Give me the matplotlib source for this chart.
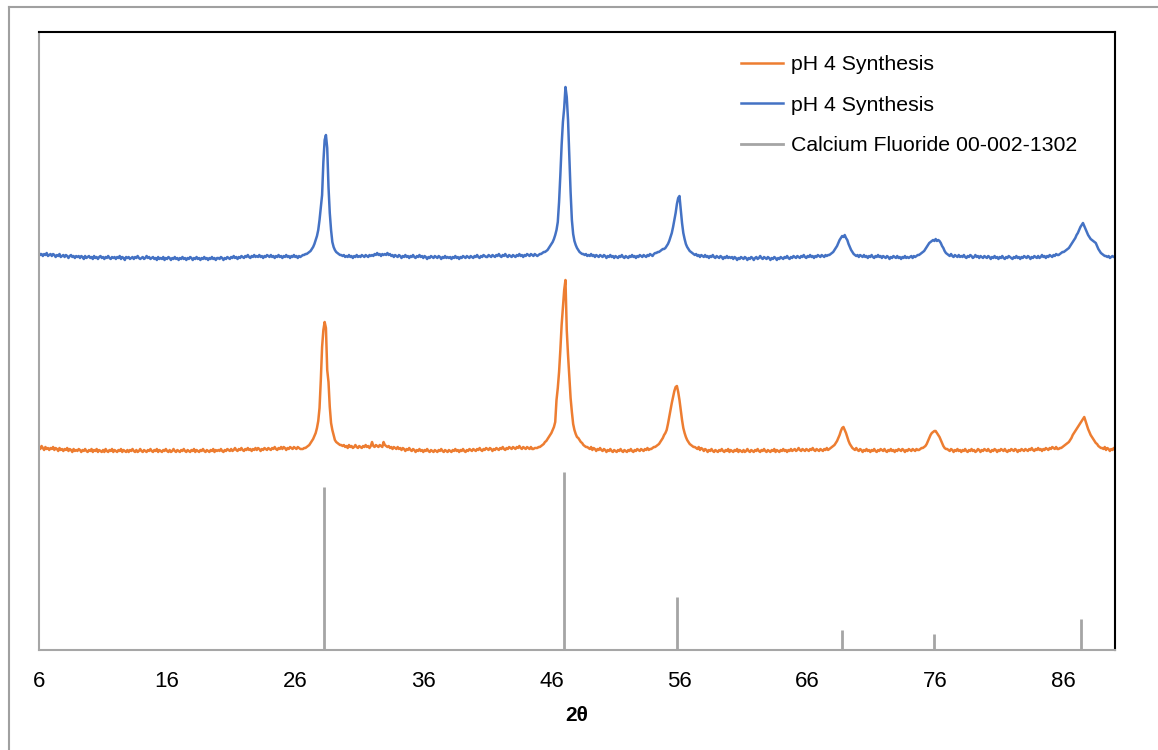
import numpy as np
import matplotlib
matplotlib.use("Agg")
import matplotlib.pyplot as plt
from matplotlib.lines import Line2D

plt.rcParams['font.family'] = ['Liberation Sans', 'DejaVu Sans']

# Diffraction angle grid: 6.0 ... 90.0 degrees in 0.1 degree steps
TWO_THETA_START = 6.0
TWO_THETA_STEP = 0.1

# Upper trace (blue), intensity in arbitrary units, one row per degree
ph4_upper = [
    397, 395, 396, 394, 396, 395, 397, 394, 395, 396,  # 6
    394, 396, 395, 393, 395, 394, 396, 393, 394, 395,  # 7
    393, 395, 394, 392, 394, 395, 393, 394, 392, 394,  # 8
    393, 394, 392, 394, 393, 391, 394, 392, 393, 394,  # 9
    392, 393, 391, 394, 392, 393, 391, 393, 394, 392,  # 10
    393, 391, 393, 392, 394, 392, 391, 393, 392, 393,  # 11
    391, 393, 392, 394, 391, 393, 392, 390, 393, 392,  # 12
    393, 391, 392, 393, 391, 393, 392, 394, 392, 391,  # 13
    392, 393, 391, 392, 394, 392, 393, 391, 392, 393,  # 14
    391, 392, 390, 393, 391, 392, 391, 393, 390, 392,  # 15
    391, 393, 392, 390, 392, 391, 393, 391, 392, 390,  # 16
    392, 391, 393, 391, 392, 390, 392, 391, 393, 392,  # 17
    390, 392, 391, 393, 391, 392, 390, 392, 391, 393,  # 18
    391, 392, 390, 392, 391, 393, 391, 392, 390, 392,  # 19
    392, 391, 393, 392, 390, 392, 391, 393, 392, 391,  # 20
    393, 392, 394, 392, 393, 391, 393, 392, 394, 393,  # 21
    392, 394, 393, 395, 393, 392, 394, 393, 395, 393,  # 22
    394, 393, 395, 393, 394, 392, 394, 393, 395, 394,  # 23
    393, 395, 393, 394, 392, 394, 393, 395, 393, 394,  # 24
    392, 394, 393, 395, 393, 394, 392, 394, 393, 395,  # 25
    393, 394, 392, 394, 393, 394, 395, 395, 396, 396,  # 26
    397, 398, 399, 401, 403, 406, 410, 414, 420, 430,  # 27
    442, 455, 488, 510, 515, 502, 463, 437, 420, 408,  # 28
    403, 400, 398, 397, 396, 395, 395, 394, 395, 393,  # 29
    394, 393, 395, 393, 394, 392, 394, 393, 395, 393,  # 30
    394, 393, 395, 394, 393, 395, 394, 393, 395, 394,  # 31
    395, 394, 396, 395, 397, 395, 396, 394, 396, 395,  # 32
    396, 395, 397, 395, 396, 394, 395, 393, 395, 394,  # 33
    393, 395, 394, 392, 394, 393, 395, 393, 394, 392,  # 34
    394, 393, 395, 393, 392, 394, 393, 395, 393, 394,  # 35
    392, 394, 393, 391, 393, 392, 394, 393, 392, 394,  # 36
    393, 392, 394, 393, 391, 393, 392, 394, 392, 393,  # 37
    392, 393, 391, 393, 392, 394, 392, 393, 391, 393,  # 38
    392, 394, 393, 392, 394, 393, 392, 394, 393, 392,  # 39
    394, 393, 395, 393, 392, 394, 393, 395, 394, 393,  # 40
    393, 395, 394, 393, 395, 394, 393, 395, 394, 396,  # 41
    394, 393, 395, 394, 396, 394, 393, 395, 394, 393,  # 42
    395, 394, 393, 395, 394, 396, 394, 395, 393, 395,  # 43
    394, 396, 395, 394, 396, 395, 394, 396, 395, 394,  # 44
    395, 396, 396, 397, 398, 398, 399, 400, 402, 404,  # 45
    406, 408, 411, 415, 420, 428, 448, 475, 505, 528,  # 46
    542, 563, 553, 530, 495, 458, 430, 416, 409, 405,  # 47
    402, 400, 398, 397, 396, 396, 395, 396, 394, 395,  # 48
    394, 396, 394, 395, 393, 395, 394, 393, 395, 394,  # 49
    393, 395, 394, 392, 394, 393, 395, 393, 394, 392,  # 50
    394, 393, 392, 394, 393, 395, 393, 392, 394, 393,  # 51
    392, 394, 393, 395, 393, 394, 392, 394, 393, 395,  # 52
    394, 393, 395, 394, 393, 395, 394, 396, 395, 394,  # 53
    396, 397, 397, 398, 398, 399, 400, 401, 401, 402,  # 54
    404, 406, 409, 413, 417, 423, 430, 437, 446, 452,  # 55
    454, 441, 427, 417, 411, 406, 403, 401, 399, 398,  # 56
    397, 396, 395, 396, 394, 395, 393, 395, 394, 393,  # 57
    395, 393, 394, 392, 394, 393, 395, 393, 392, 394,  # 58
    393, 392, 394, 393, 391, 393, 392, 394, 392, 393,  # 59
    392, 393, 391, 393, 392, 390, 392, 391, 393, 392,  # 60
    391, 393, 392, 390, 392, 391, 393, 392, 390, 392,  # 61
    393, 391, 392, 394, 392, 391, 393, 392, 391, 393,  # 62
    392, 390, 392, 391, 393, 392, 390, 392, 391, 393,  # 63
    392, 391, 393, 392, 394, 392, 391, 393, 392, 394,  # 64
    393, 392, 394, 393, 392, 394, 393, 395, 393, 392,  # 65
    394, 393, 395, 393, 394, 392, 394, 393, 395, 394,  # 66
    393, 395, 394, 393, 395, 394, 395, 395, 396, 397,  # 67
    398, 400, 402, 404, 407, 410, 412, 414, 413, 415,  # 68
    412, 410, 406, 403, 400, 398, 396, 395, 394, 395,  # 69
    393, 395, 394, 393, 395, 393, 394, 392, 394, 393,  # 70
    395, 393, 392, 394, 393, 395, 393, 394, 392, 394,  # 71
    393, 392, 394, 393, 391, 393, 392, 394, 393, 392,  # 72
    394, 392, 393, 391, 393, 392, 394, 392, 393, 392,  # 73
    393, 394, 392, 394, 393, 394, 395, 395, 396, 397,  # 74
    398, 399, 401, 403, 405, 407, 408, 409, 410, 409,  # 75
    411, 409, 410, 409, 407, 404, 402, 399, 397, 396,  # 76
    395, 394, 396, 394, 393, 395, 394, 393, 395, 393,  # 77
    394, 393, 395, 393, 392, 394, 393, 395, 394, 392,  # 78
    393, 395, 393, 394, 392, 394, 393, 392, 394, 393,  # 79
    392, 394, 393, 391, 393, 392, 394, 392, 393, 391,  # 80
    393, 392, 394, 392, 391, 393, 392, 394, 393, 392,  # 81
    391, 393, 392, 394, 392, 393, 391, 393, 392, 394,  # 82
    393, 392, 394, 393, 391, 393, 392, 394, 393, 392,  # 83
    394, 392, 393, 395, 393, 394, 392, 394, 393, 395,  # 84
    394, 393, 395, 394, 396, 395, 395, 396, 397, 398,  # 85
    398, 399, 400, 401, 402, 404, 406, 408, 410, 412,  # 86
    415, 417, 420, 423, 425, 427, 424, 421, 418, 415,  # 87
    413, 411, 410, 409, 408, 407, 404, 401, 399, 397,  # 88
    396, 395, 394, 394, 393, 394, 392, 393, 394, 393,  # 89
    393,                                               # 90
]

# Lower trace (orange), intensity in arbitrary units, one row per degree
ph4_lower = [
    203, 201, 204, 202, 200, 203, 201, 202, 200, 202,  # 6
    201, 203, 200, 202, 201, 199, 202, 200, 201, 199,  # 7
    201, 200, 202, 199, 201, 200, 198, 201, 199, 200,  # 8
    199, 201, 200, 198, 200, 199, 201, 199, 198, 200,  # 9
    199, 201, 198, 200, 199, 201, 198, 200, 199, 198,  # 10
    200, 198, 201, 199, 198, 200, 199, 201, 198, 200,  # 11
    199, 198, 200, 199, 201, 198, 200, 199, 198, 200,  # 12
    198, 200, 199, 201, 199, 198, 200, 198, 199, 201,  # 13
    199, 198, 200, 199, 198, 200, 199, 201, 199, 198,  # 14
    200, 199, 201, 198, 200, 199, 198, 200, 199, 201,  # 15
    199, 198, 200, 198, 199, 201, 199, 198, 200, 199,  # 16
    198, 200, 199, 201, 199, 198, 200, 199, 198, 200,  # 17
    199, 201, 198, 200, 199, 198, 200, 199, 201, 199,  # 18
    198, 200, 199, 198, 200, 199, 201, 198, 200, 199,  # 19
    200, 199, 201, 199, 198, 200, 199, 201, 200, 199,  # 20
    201, 199, 200, 202, 200, 199, 201, 200, 202, 200,  # 21
    199, 201, 200, 202, 200, 201, 199, 201, 200, 202,  # 22
    200, 202, 201, 199, 201, 200, 202, 201, 200, 202,  # 23
    201, 200, 202, 201, 203, 201, 200, 202, 201, 203,  # 24
    201, 203, 202, 200, 202, 201, 203, 202, 201, 203,  # 25
    202, 201, 203, 202, 201, 201, 201, 202, 202, 203,  # 26
    204, 205, 207, 209, 211, 214, 217, 222, 229, 242,  # 27
    270, 303, 320, 328, 322, 280, 268, 243, 227, 220,  # 28
    215, 210, 208, 207, 206, 205, 205, 204, 205, 203,  # 29
    204, 202, 205, 203, 204, 202, 203, 205, 203, 202,  # 30
    204, 203, 202, 204, 203, 205, 203, 204, 202, 204,  # 31
    208, 204, 203, 205, 204, 203, 205, 204, 203, 208,  # 32
    205, 204, 203, 204, 202, 203, 201, 203, 202, 201,  # 33
    203, 201, 202, 200, 202, 201, 199, 201, 200, 202,  # 34
    200, 199, 201, 200, 198, 200, 199, 201, 199, 200,  # 35
    198, 200, 199, 201, 199, 198, 200, 199, 198, 200,  # 36
    199, 198, 200, 199, 201, 199, 198, 200, 199, 198,  # 37
    200, 199, 198, 200, 199, 201, 199, 200, 198, 200,  # 38
    199, 201, 199, 198, 200, 199, 201, 200, 199, 201,  # 39
    200, 199, 201, 200, 202, 200, 199, 201, 200, 202,  # 40
    201, 200, 202, 201, 199, 201, 200, 202, 201, 200,  # 41
    202, 201, 203, 201, 200, 202, 201, 203, 202, 201,  # 42
    203, 202, 201, 203, 202, 204, 202, 201, 203, 202,  # 43
    201, 203, 202, 201, 203, 201, 201, 202, 202, 202,  # 44
    203, 203, 204, 205, 206, 208, 209, 211, 213, 215,  # 45
    217, 220, 223, 228, 250, 262, 278, 300, 325, 342,  # 46
    360, 370, 320, 295, 273, 252, 238, 226, 220, 216,  # 47
    213, 212, 210, 208, 207, 205, 204, 203, 203, 202,  # 48
    201, 203, 200, 202, 201, 199, 201, 200, 202, 200,  # 49
    199, 201, 200, 198, 200, 199, 201, 199, 198, 200,  # 50
    199, 198, 200, 199, 201, 199, 198, 200, 199, 198,  # 51
    200, 199, 201, 199, 198, 200, 199, 201, 200, 199,  # 52
    201, 200, 199, 201, 200, 202, 200, 201, 201, 202,  # 53
    203, 203, 204, 205, 206, 208, 210, 212, 215, 217,  # 54
    220, 226, 233, 240, 247, 253, 259, 263, 264, 258,  # 55
    250, 240, 230, 222, 217, 213, 210, 208, 206, 205,  # 56
    204, 203, 203, 202, 201, 203, 200, 202, 201, 199,  # 57
    201, 200, 198, 200, 199, 201, 199, 198, 200, 199,  # 58
    198, 200, 199, 201, 199, 198, 200, 199, 201, 198,  # 59
    200, 199, 198, 200, 199, 201, 198, 200, 199, 198,  # 60
    200, 198, 199, 201, 199, 198, 200, 199, 198, 200,  # 61
    199, 201, 199, 198, 200, 199, 201, 199, 198, 200,  # 62
    199, 198, 200, 199, 201, 198, 200, 199, 198, 200,  # 63
    199, 201, 199, 200, 198, 200, 199, 201, 199, 200,  # 64
    201, 199, 200, 202, 200, 199, 201, 200, 199, 201,  # 65
    200, 199, 201, 200, 202, 200, 199, 201, 200, 199,  # 66
    201, 200, 199, 201, 200, 202, 200, 201, 202, 203,  # 67
    204, 205, 207, 209, 212, 215, 219, 222, 223, 220,  # 68
    217, 213, 209, 206, 204, 202, 201, 200, 202, 200,  # 69
    199, 201, 200, 198, 200, 199, 201, 199, 200, 198,  # 70
    200, 199, 201, 199, 198, 200, 199, 201, 200, 199,  # 71
    201, 199, 198, 200, 199, 201, 199, 200, 198, 200,  # 72
    199, 201, 200, 199, 201, 200, 198, 200, 199, 201,  # 73
    200, 199, 201, 200, 199, 201, 200, 200, 201, 202,  # 74
    202, 203, 204, 206, 209, 212, 215, 217, 218, 219,  # 75
    219, 217, 215, 213, 210, 207, 204, 202, 201, 201,  # 76
    200, 199, 201, 200, 198, 200, 199, 201, 199, 200,  # 77
    198, 200, 199, 201, 199, 198, 200, 199, 201, 199,  # 78
    200, 198, 199, 201, 200, 198, 200, 199, 201, 200,  # 79
    199, 201, 199, 198, 200, 199, 201, 200, 198, 200,  # 80
    199, 201, 200, 199, 201, 199, 198, 200, 199, 201,  # 81
    200, 199, 201, 200, 198, 200, 199, 201, 200, 199,  # 82
    201, 200, 199, 201, 200, 202, 200, 199, 201, 200,  # 83
    202, 200, 201, 199, 201, 200, 202, 201, 200, 202,  # 84
    201, 203, 202, 201, 203, 201, 201, 202, 202, 203,  # 85
    204, 205, 206, 207, 208, 210, 212, 215, 217, 219,  # 86
    221, 223, 225, 227, 229, 231, 233, 229, 225, 221,  # 87
    218, 215, 213, 211, 209, 207, 206, 204, 203, 202,  # 88
    202, 201, 203, 200, 202, 201, 199, 201, 200, 202,  # 89
    200,                                               # 90
]

# Reference pattern: Calcium Fluoride 00-002-1302
ref_two_theta = [28.27, 47.01, 55.77, 68.67, 75.85, 87.38]
ref_intensity = [163, 178, 53, 20, 16, 31]

series_labels = ["pH 4 Synthesis", "pH 4 Synthesis", "Calcium Fluoride 00-002-1302"]
x_ticks = [6, 16, 26, 36, 46, 56, 66, 76, 86]
x_label = "2θ"

ORANGE = "#ED7D31"
BLUE = "#4472C4"
GREY = "#A5A5A5"

two_theta = np.round(TWO_THETA_START + TWO_THETA_STEP * np.arange(len(ph4_upper)), 1)
assert len(ph4_upper) == len(ph4_lower)

fig = plt.figure(figsize=(11.58, 7.5), dpi=100)
ax = fig.add_axes([39 / 1158, 100 / 750, 1076 / 1158, 618 / 750])

ax.plot(two_theta, ph4_lower, color=ORANGE, lw=1.8, label=series_labels[0])
ax.plot(two_theta, ph4_upper, color=BLUE, lw=1.8, label=series_labels[1])
ax.vlines(ref_two_theta, 0, ref_intensity, color=GREY, lw=2.0)
ax.plot([], [], color=GREY, lw=2.0, label=series_labels[2])

ax.set_xlim(6, 90)
ax.set_ylim(0, 618)
ax.set_xticks(x_ticks)
ax.set_xticklabels([str(t) for t in x_ticks], fontsize=16)
ax.set_yticks([])
ax.tick_params(axis="x", length=0, pad=15)
ax.set_xlabel(x_label, fontsize=15, fontweight="bold", labelpad=10)

for side in ("left", "bottom"):
    ax.spines[side].set_color("#A6A6A6")
    ax.spines[side].set_linewidth(1.5)
for side in ("top", "right"):
    ax.spines[side].set_color("black")
    ax.spines[side].set_linewidth(1.5)

ax.legend(loc="upper left", bbox_to_anchor=(0.6526, 0.962), frameon=False,
          fontsize=15.3, handlelength=1.98, handletextpad=0.38,
          labelspacing=1.0, borderpad=0, borderaxespad=0)

# chart-area border
fig.add_artist(Line2D([8.5 / 1158, 8.5 / 1158], [0, 1 - 6.5 / 750],
                      transform=fig.transFigure, color="#A0A0A0", lw=1.5))
fig.add_artist(Line2D([8.5 / 1158, 1], [1 - 6.5 / 750, 1 - 6.5 / 750],
                      transform=fig.transFigure, color="#A0A0A0", lw=1.5))

fig.savefig("out.png", dpi=100, facecolor="white")
